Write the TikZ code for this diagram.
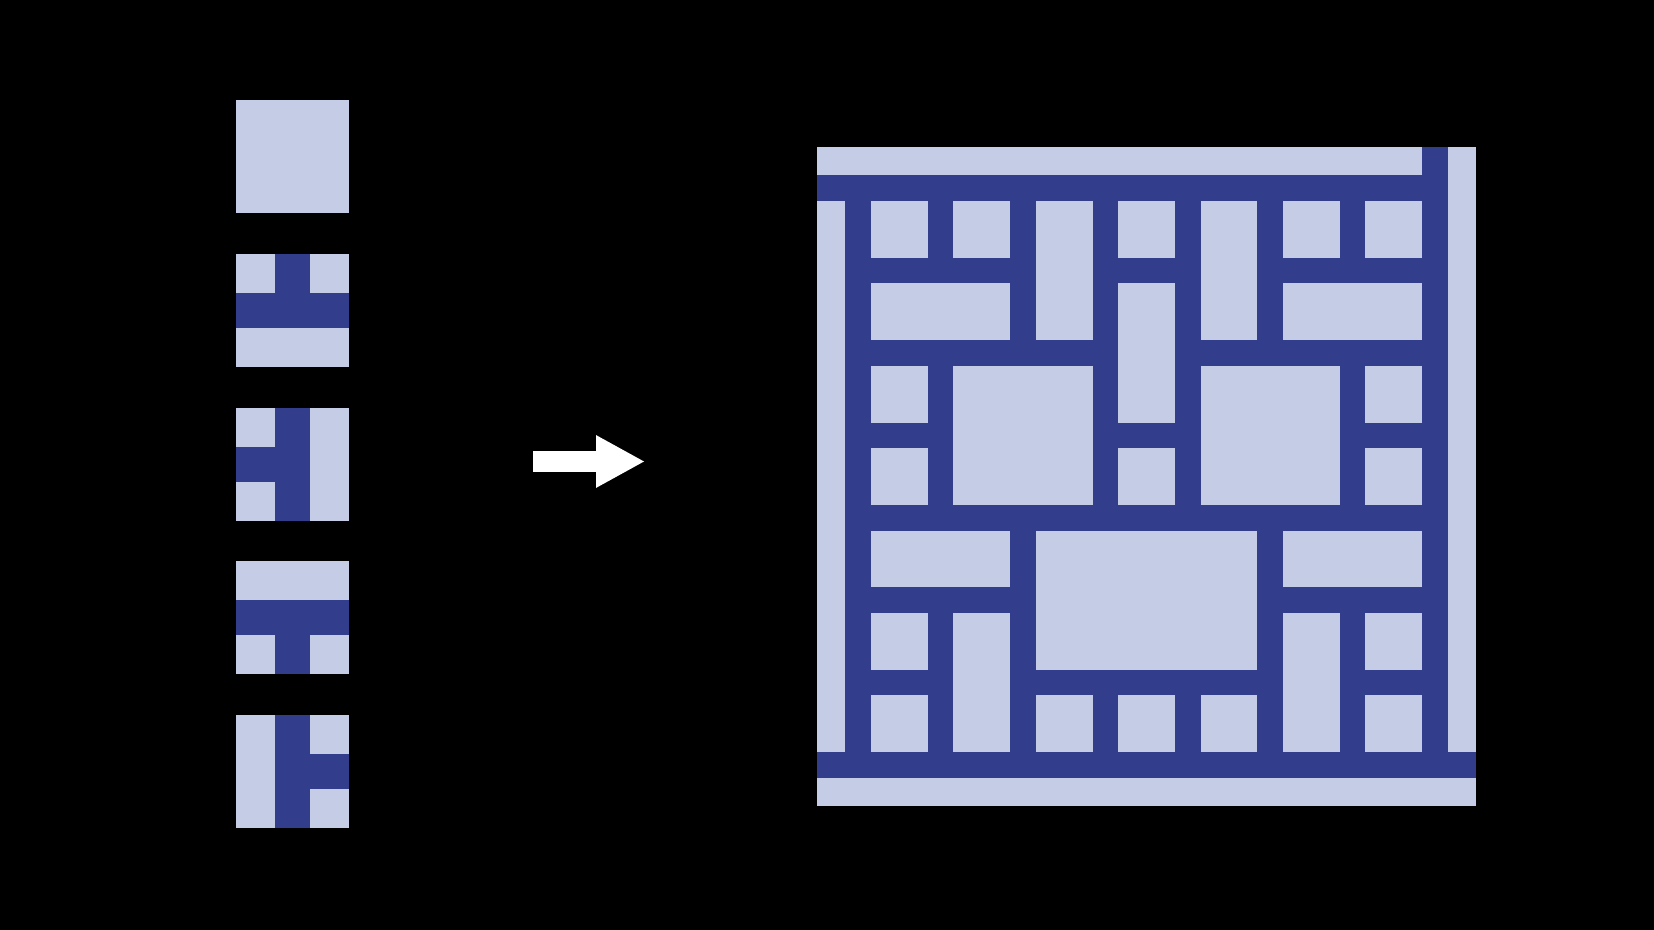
\documentclass[tikz,border=0pt]{standalone}
\usepackage{tikz}
\usetikzlibrary{arrows.meta}
\definecolor{tilelight}{RGB}{197,204,230}
\definecolor{tiledark}{RGB}{50,62,140}

\begin{document}
\begin{tikzpicture}[x=0.5pt,y=-0.5pt]
  \tikzstyle{light}=[fill=tilelight]
  \tikzstyle{dark}=[fill=tiledark]
  \tikzstyle{tile}=[x=56.5pt,y=-56.5pt]

  \fill[black] (0,0) rectangle (1654,930);

  % the five tiles
  \begin{scope}[shift={(236,100)},tile]
    \fill[light] (0,0) rectangle (1,1);
  \end{scope}
  \begin{scope}[shift={(236,254)},tile]
    \fill[light] (0,0) rectangle (1,1);
    \fill[dark] (0,0.345) rectangle (1,0.655);
    \fill[dark] (0.345,0) rectangle (0.655,0.655);
  \end{scope}
  \begin{scope}[shift={(236,408)},tile]
    \fill[light] (0,0) rectangle (1,1);
    \fill[dark] (0.345,0) rectangle (0.655,1);
    \fill[dark] (0,0.345) rectangle (0.655,0.655);
  \end{scope}
  \begin{scope}[shift={(236,561)},tile]
    \fill[light] (0,0) rectangle (1,1);
    \fill[dark] (0,0.345) rectangle (1,0.655);
    \fill[dark] (0.345,0.345) rectangle (0.655,1);
  \end{scope}
  \begin{scope}[shift={(236,715)},tile]
    \fill[light] (0,0) rectangle (1,1);
    \fill[dark] (0.345,0) rectangle (0.655,1);
    \fill[dark] (0.345,0.345) rectangle (1,0.655);
  \end{scope}

  \coordinate (tail) at (533,461.5);
  \coordinate (tip)  at (645,461.5);
  \draw[white,line width=10.5pt,-{Triangle[length=24.5pt,width=24.5pt]}]
    (tail) -- (tip);

  % the assembled floor
  \begin{scope}[shift={(817,147)},x=41.2pt,y=-41.2pt]
    \fill[light] (0,0) rectangle (8,8);
    \fill[dark] (0.345,0.345) rectangle (7.655,7.655);
    \fill[dark] (0,0.345) rectangle (7.655,0.655);
    \fill[dark] (7.345,0) rectangle (7.655,7.655);
    \fill[dark] (0,7.345) rectangle (8,7.655);
    \foreach \a/\b/\c/\d in {0/0/0/0,1/0/1/0,2/0/2/1,3/0/3/0,4/0/4/1,5/0/5/0,6/0/6/0,
        0/1/1/1,3/1/3/2,5/1/6/1,
        0/2/0/2,1/2/2/3,4/2/5/3,6/2/6/2,
        0/3/0/3,3/3/3/3,6/3/6/3,
        0/4/1/4,2/4/4/5,5/4/6/4,
        0/5/0/5,1/5/1/6,5/5/5/6,6/5/6/5,
        0/6/0/6,2/6/2/6,3/6/3/6,4/6/4/6,6/6/6/6}
      \fill[light] (\a+0.655,\b+0.655) rectangle (\c+1.345,\d+1.345);
  \end{scope}
\end{tikzpicture}
\end{document}
